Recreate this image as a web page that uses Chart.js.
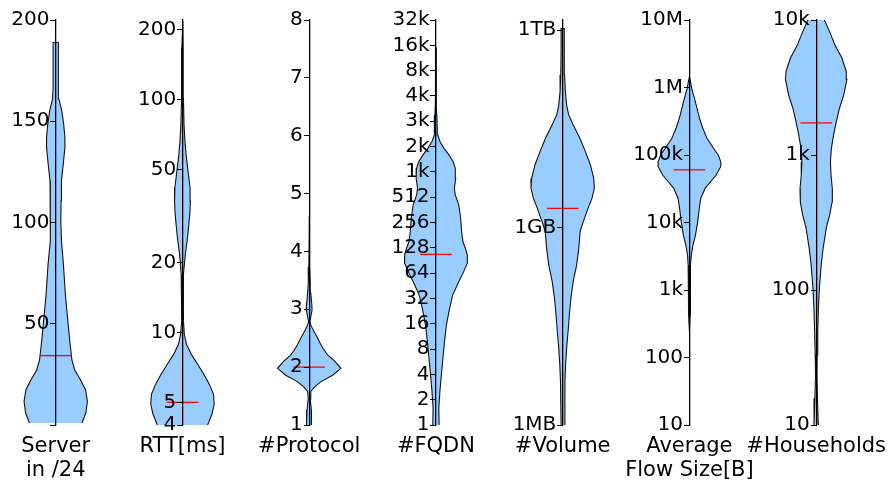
<!DOCTYPE html>
<html>
<head>
<meta charset="utf-8">
<script src="https://cdn.jsdelivr.net/npm/chart.js@4.4.1/dist/chart.umd.min.js"></script>
<style>
    html, body { margin: 0; padding: 0; background: #fff; }
</style>
</head>
<body>
<canvas id="chart-violin" width="896" height="485"></canvas>
<script>
// categorias (eje x)
const CATEGORIAS = [['Server', 'in /24'], 'RTT[ms]', '#Protocol', '#FQDN', '#Volume', ['Average', 'Flow Size[B]'], '#Households'];

// perfiles de densidad: niveles (valor en el eje y) y densidad relativa (max = 1)
const SERVER_NIVELES    = [1, 5.9, 11.7, 17.4, 22.3, 27.2, 32.1, 42, 50.2, 63.3, 79.7, 91.2, 101, 110.9, 120.7, 129, 137.2, 142, 148.7, 155.2, 161, 166.7, 178, 188.9];
const SERVER_DENSIDAD   = [0.83, 0.95, 1.0, 0.94, 0.78, 0.60, 0.51, 0.44, 0.39, 0.31, 0.24, 0.18, 0.16, 0.17, 0.18, 0.24, 0.29, 0.29, 0.25, 0.19, 0.10, 0.083, 0.083, 0.083];

const RTT_NIVELES       = [3.0, 3.5, 3.96, 4.45, 4.9, 5.42, 5.98, 6.6, 7.3, 8.05, 8.9, 9.8, 11.2, 14.1, 17.7, 21.6, 26.3, 32.1, 36.6, 41.8, 49, 58, 66, 78, 102, 167, 217];
const RTT_DENSIDAD      = [0.35, 0.62, 0.78, 0.93, 1.0, 0.98, 0.85, 0.68, 0.48, 0.28, 0.125, 0.06, 0.03, 0.02, 0.04, 0.09, 0.17, 0.23, 0.25, 0.24, 0.18, 0.115, 0.08, 0.05, 0.03, 0.02, 0.01];

const PROTO_NIVELES     = [1.0, 1.26, 1.45, 1.58, 1.66, 1.75, 1.86, 1.98, 2.1, 2.21, 2.33, 2.41, 2.53, 2.64, 2.73, 2.79, 2.87, 2.99, 3.1, 3.28, 3.45, 3.73, 4.3, 4.6];
const PROTO_DENSIDAD    = [0.083, 0.07, 0.03, 0.05, 0.17, 0.375, 0.74, 1.0, 0.81, 0.58, 0.43, 0.35, 0.24, 0.125, 0.05, 0.02, 0.05, 0.09, 0.08, 0.05, 0.03, 0.012, 0.005, 0.003];

const FQDN_NIVELES      = [1, 1.58, 2.5, 3.94, 6.23, 9.78, 15.5, 24.4, 35.3, 50.6, 66.7, 83.9, 105, 126, 152, 199, 288, 416, 545, 657, 861, 1136, 1361, 1629, 1965, 2353, 2817, 3397, 4871, 7643, 14263, 30574];
const FQDN_DENSIDAD     = [0.10, 0.09, 0.125, 0.17, 0.22, 0.27, 0.33, 0.43, 0.53, 0.72, 0.875, 0.99, 0.99, 0.93, 0.85, 0.81, 0.78, 0.72, 0.61, 0.58, 0.625, 0.61, 0.54, 0.41, 0.25, 0.125, 0.06, 0.04, 0.03, 0.02, 0.01, 0.005];

// volumen en MB
const VOLUMEN_NIVELES   = [1, 4.57, 8.13, 14.8, 26.3, 46.8, 85.1, 151, 269, 490, 871, 1230, 1950, 2820, 3980, 5620, 8910, 14100, 22900, 36300, 51300, 72400, 117000, 209000, 525000, 1050000];
const VOLUMEN_DENSIDAD  = [0.05, 0.07, 0.09, 0.125, 0.17, 0.21, 0.26, 0.33, 0.44, 0.51, 0.55, 0.65, 0.80, 0.93, 1.0, 0.98, 0.875, 0.72, 0.54, 0.33, 0.19, 0.125, 0.083, 0.06, 0.05, 0.05];

const FLUJO_NIVELES     = [240, 427, 759, 1320, 2340, 3310, 4680, 6460, 10200, 16200, 22900, 32400, 39800, 50100, 67600, 79400, 100000, 126000, 178000, 251000, 347000, 490000, 692000, 977000, 1230000, 1450000];
const FLUJO_DENSIDAD    = [0, 0.02, 0.03, 0.03, 0.04, 0.06, 0.115, 0.19, 0.26, 0.31, 0.36, 0.5, 0.66, 0.84, 0.99, 0.99, 0.91, 0.76, 0.55, 0.42, 0.32, 0.24, 0.16, 0.07, 0.03, 0];

const HOGARES_NIVELES   = [10, 15.8, 23.4, 33.1, 49, 72.4, 102, 155, 204, 288, 363, 447, 562, 708, 891, 1120, 1410, 1780, 2240, 2750, 3630, 4170, 5250, 6460, 8130, 10000, 12600];
const HOGARES_DENSIDAD  = [0.068, 0.04, 0.02, 0.03, 0.05, 0.07, 0.10, 0.16, 0.22, 0.32, 0.43, 0.5, 0.51, 0.47, 0.45, 0.48, 0.55, 0.64, 0.74, 0.865, 0.97, 0.95, 0.81, 0.6, 0.43, 0.26, 0.15];

// medianas
const MEDIANAS = [34.3, 5, 2, 107, 1950, 60000, 1730];

// ticks de cada eje
const SERVER_TICKS   = [0, 50, 100, 150, 200];
const SERVER_LABELS  = ['', '50', '100', '150', '200'];
const RTT_TICKS      = [4, 5, 10, 20, 50, 100, 200];
const RTT_LABELS     = ['4', '5', '10', '20', '50', '100', '200'];
const PROTO_TICKS    = [1, 2, 3, 4, 5, 6, 7, 8];
const PROTO_LABELS   = ['1', '2', '3', '4', '5', '6', '7', '8'];
const FQDN_TICKS     = [1, 2, 4, 8, 16, 32, 64, 128, 256, 512, 1024, 2048, 4096, 8192, 16384, 32768, 65536];
const FQDN_LABELS    = ['1', '2', '4', '8', '16', '32', '64', '128', '256', '512', '1k', '2k', '3k', '4k', '8k', '16k', '32k'];
const VOLUMEN_TICKS  = [1, 1000, 1000000];
const VOLUMEN_LABELS = ['1MB', '1GB', '1TB'];
const FLUJO_TICKS    = [10, 100, 1000, 10000, 100000, 1000000, 10000000];
const FLUJO_LABELS   = ['10', '100', '1k', '10k', '100k', '1M', '10M'];
const HOGARES_TICKS  = [10, 100, 1000, 10000];
const HOGARES_LABELS = ['10', '100', '1k', '10k'];

const MEDIA_ANCHO  = 0.25;   // media anchura maxima del violin
const MEDIA_LINEA  = 0.125;  // media longitud de la mediana
const COLOR_CUERPO = '#99ccff';

Chart.defaults.font.family = '"DejaVu Sans", sans-serif';
Chart.defaults.font.size   = 20;
Chart.defaults.color       = '#000';

function ejeY(i, tipo, min, max, valores, etiquetas) {
    return {
        type: tipo,
        min: min,
        max: max,
        position: { x: i },
        z: 1,
        afterBuildTicks: s => { s.ticks = valores.map(v => ({ value: v })); },
        ticks: {
            // con position {x} el padding no separa la etiqueta del eje: un espacio al final
            callback: (v, idx) => etiquetas[idx] ? etiquetas[idx] + ' ' : '',
            autoSkip: false,
            padding: 0,
            z: 1,
            font: { size: 20 },
            color: '#000'
        },
        grid: { drawOnChartArea: false, drawTicks: true, tickLength: 5, color: '#000', lineWidth: 1, z: 1 },
        border: { display: true, color: '#000', width: 1.3, z: 1 }
    };
}

function cuerpoViolin(i, niveles, densidad, eje) {
    const derecha   = niveles.map((v, k) => ({ x: i + densidad[k] * MEDIA_ANCHO, y: v }));
    const izquierda = niveles.map((v, k) => ({ x: i - densidad[k] * MEDIA_ANCHO, y: v })).reverse();
    return {
        data: derecha.concat(izquierda),
        yAxisID: eje,
        fill: 'shape',
        backgroundColor: COLOR_CUERPO,
        borderColor: '#111',
        borderWidth: 1.1,
        pointRadius: 0,
        pointBorderWidth: 0,
        pointHoverRadius: 0,
        tension: 0,
        order: 2
    };
}

function mediana(i, valor, eje) {
    return {
        data: [{ x: i - MEDIA_LINEA, y: valor }, { x: i + MEDIA_LINEA, y: valor }],
        yAxisID: eje,
        fill: false,
        borderColor: '#ff0000',
        borderWidth: 1.3,
        pointRadius: 0,
        pointBorderWidth: 0,
        order: 1
    };
}

const PERFILES = [
    [SERVER_NIVELES,  SERVER_DENSIDAD],
    [RTT_NIVELES,     RTT_DENSIDAD],
    [PROTO_NIVELES,   PROTO_DENSIDAD],
    [FQDN_NIVELES,    FQDN_DENSIDAD],
    [VOLUMEN_NIVELES, VOLUMEN_DENSIDAD],
    [FLUJO_NIVELES,   FLUJO_DENSIDAD],
    [HOGARES_NIVELES, HOGARES_DENSIDAD]
];

const datasets = [];
PERFILES.forEach((p, i) => {
    datasets.push(cuerpoViolin(i, p[0], p[1], 'y' + i));
    datasets.push(mediana(i, MEDIANAS[i], 'y' + i));
});

const ctx = document.getElementById('chart-violin').getContext('2d');
new Chart(ctx, {
    type: 'line',
    data: { datasets: datasets },
    options: {
        responsive: false,
        animation: false,
        events: [],
        layout: { padding: { top: 20, left: 0, right: 0, bottom: 0 } },
        plugins: { legend: { display: false }, tooltip: { enabled: false } },
        scales: {
            x: {
                type: 'linear',
                min: -0.4397,
                max: 6.579,
                afterBuildTicks: s => { s.ticks = CATEGORIAS.map((c, k) => ({ value: k })); },
                afterFit: s => { s.height = 60; },
                grid: { display: false, drawTicks: false },
                border: { display: false },
                ticks: {
                    callback: (v, idx) => CATEGORIAS[idx],
                    autoSkip: false,
                    maxRotation: 0,
                    padding: 10,
                    font: { size: 21, lineHeight: '24px' }
                }
            },
            y0: ejeY(0, 'linear',      0,  200,     SERVER_TICKS,  SERVER_LABELS),
            y1: ejeY(1, 'logarithmic', 4,  220.6,   RTT_TICKS,     RTT_LABELS),
            y2: ejeY(2, 'linear',      1,  8,       PROTO_TICKS,   PROTO_LABELS),
            y3: ejeY(3, 'logarithmic', 1,  65536,   FQDN_TICKS,    FQDN_LABELS),
            y4: ejeY(4, 'logarithmic', 1,  1420000, VOLUMEN_TICKS, VOLUMEN_LABELS),
            y5: ejeY(5, 'logarithmic', 10, 1e7,     FLUJO_TICKS,   FLUJO_LABELS),
            y6: ejeY(6, 'logarithmic', 10, 1e4,     HOGARES_TICKS, HOGARES_LABELS)
        }
    }
});
</script>
</body>
</html>
